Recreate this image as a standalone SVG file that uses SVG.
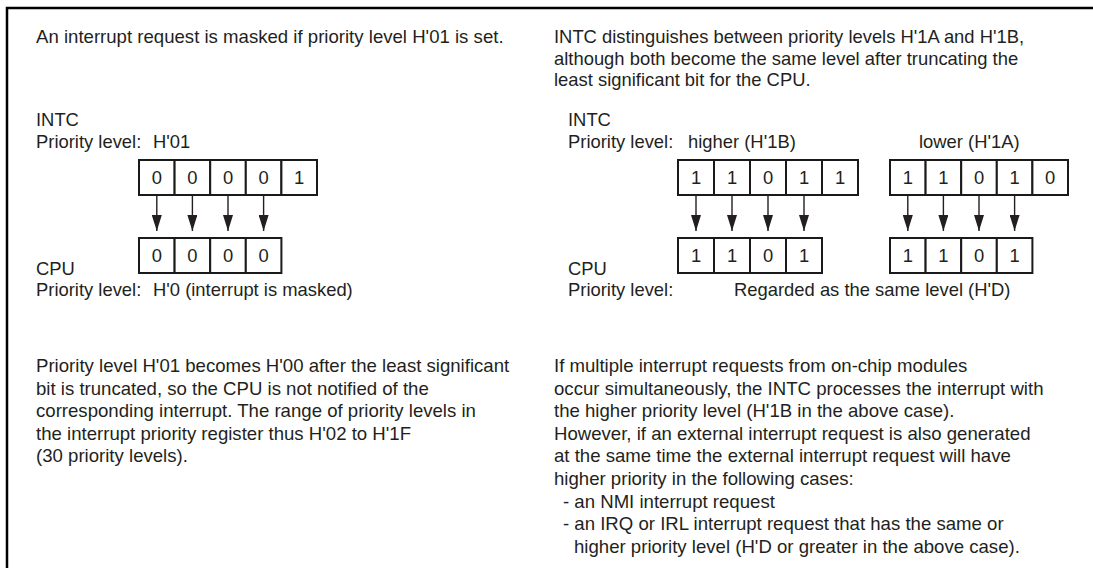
<svg xmlns="http://www.w3.org/2000/svg" width="1093" height="568" viewBox="0 0 1093 568">
<style>
text{font-family:"Liberation Sans",Arial,sans-serif;font-size:18.4px;fill:#231f20}
.p{font-size:18.6px}
.c{text-anchor:middle}
.cell{fill:#fff;stroke:#1a1a1a;stroke-width:2}
.frame{fill:none;stroke:#000;stroke-width:2.5}
.arr{stroke:#231f20;stroke-width:1.4;fill:none;marker-end:url(#ah)}
</style>
<defs>
<marker id="ah" markerUnits="userSpaceOnUse" markerWidth="16" markerHeight="10" refX="16" refY="5" orient="auto" viewBox="0 0 16 10">
<path d="M0,0 L16,5 L0,10 Z" fill="#231f20"/>
</marker>
</defs>
<rect width="1093" height="568" fill="#fff"/>
<path class="frame" d="M7,568 V8 H1093"/>

<g id="left-intro">
<text class="p" x="36" y="43">An interrupt request is masked if priority level H'01 is set.</text>
</g>
<g id="right-intro">
<text x="554" y="43">INTC distinguishes between priority levels H'1A and H'1B,</text>
<text x="554" y="64.5">although both become the same level after truncating the</text>
<text x="554" y="86">least significant bit for the CPU.</text>
</g>

<g id="left-intc-label">
<text x="36" y="126">INTC</text>
<text x="36" y="148">Priority level:</text>
<text x="153" y="148">H'01</text>
</g>
<g id="left-intc-bits">
<rect class="cell" x="139" y="160" width="35.6" height="35"/>
<rect class="cell" x="174.6" y="160" width="35.6" height="35"/>
<rect class="cell" x="210.2" y="160" width="35.6" height="35"/>
<rect class="cell" x="245.8" y="160" width="35.6" height="35"/>
<rect class="cell" x="281.4" y="160" width="35.6" height="35"/>
<text class="c" x="156.8" y="184">0</text>
<text class="c" x="192.4" y="184">0</text>
<text class="c" x="228" y="184">0</text>
<text class="c" x="263.6" y="184">0</text>
<text class="c" x="299.2" y="184">1</text>
</g>
<g id="left-cpu-bits">
<rect class="cell" x="139" y="238" width="35.6" height="35"/>
<rect class="cell" x="174.6" y="238" width="35.6" height="35"/>
<rect class="cell" x="210.2" y="238" width="35.6" height="35"/>
<rect class="cell" x="245.8" y="238" width="35.6" height="35"/>
<text class="c" x="156.8" y="262">0</text>
<text class="c" x="192.4" y="262">0</text>
<text class="c" x="228" y="262">0</text>
<text class="c" x="263.6" y="262">0</text>
</g>
<g id="left-cpu-label">
<text x="36" y="275">CPU</text>
<text x="36" y="296">Priority level:</text>
<text x="153" y="296">H'0 (interrupt is masked)</text>
</g>

<g id="right-intc-label">
<text x="568" y="126">INTC</text>
<text x="568" y="148">Priority level:</text>
<text x="688" y="148">higher (H'1B)</text>
<text x="919" y="148">lower (H'1A)</text>
</g>
<g id="right-intc-higher">
<rect class="cell" x="678" y="160" width="36" height="35"/>
<rect class="cell" x="714" y="160" width="36" height="35"/>
<rect class="cell" x="750" y="160" width="36" height="35"/>
<rect class="cell" x="786" y="160" width="36" height="35"/>
<rect class="cell" x="822" y="160" width="36" height="35"/>
<text class="c" x="696" y="184">1</text>
<text class="c" x="732" y="184">1</text>
<text class="c" x="768" y="184">0</text>
<text class="c" x="804" y="184">1</text>
<text class="c" x="840" y="184">1</text>
</g>
<g id="right-intc-lower">
<rect class="cell" x="890" y="160" width="35.6" height="35"/>
<rect class="cell" x="925.6" y="160" width="35.6" height="35"/>
<rect class="cell" x="961.2" y="160" width="35.6" height="35"/>
<rect class="cell" x="996.8" y="160" width="35.6" height="35"/>
<rect class="cell" x="1032.4" y="160" width="35.6" height="35"/>
<text class="c" x="907.8" y="184">1</text>
<text class="c" x="943.4" y="184">1</text>
<text class="c" x="979" y="184">0</text>
<text class="c" x="1014.6" y="184">1</text>
<text class="c" x="1050.2" y="184">0</text>
</g>
<g id="right-cpu-higher">
<rect class="cell" x="678" y="238" width="36" height="35"/>
<rect class="cell" x="714" y="238" width="36" height="35"/>
<rect class="cell" x="750" y="238" width="36" height="35"/>
<rect class="cell" x="786" y="238" width="36" height="35"/>
<text class="c" x="696" y="262">1</text>
<text class="c" x="732" y="262">1</text>
<text class="c" x="768" y="262">0</text>
<text class="c" x="804" y="262">1</text>
</g>
<g id="right-cpu-lower">
<rect class="cell" x="890" y="238" width="35.6" height="35"/>
<rect class="cell" x="925.6" y="238" width="35.6" height="35"/>
<rect class="cell" x="961.2" y="238" width="35.6" height="35"/>
<rect class="cell" x="996.8" y="238" width="35.6" height="35"/>
<text class="c" x="907.8" y="262">1</text>
<text class="c" x="943.4" y="262">1</text>
<text class="c" x="979" y="262">0</text>
<text class="c" x="1014.6" y="262">1</text>
</g>
<g id="right-cpu-label">
<text x="568" y="275">CPU</text>
<text x="568" y="296">Priority level:</text>
<text x="734" y="296">Regarded as the same level (H'D)</text>
</g>

<g id="connectors">
<line class="arr" x1="156.8" y1="196" x2="156.8" y2="231"/>
<line class="arr" x1="192.4" y1="196" x2="192.4" y2="231"/>
<line class="arr" x1="228" y1="196" x2="228" y2="231"/>
<line class="arr" x1="263.6" y1="196" x2="263.6" y2="231"/>
<line class="arr" x1="696" y1="196" x2="696" y2="231"/>
<line class="arr" x1="732" y1="196" x2="732" y2="231"/>
<line class="arr" x1="768" y1="196" x2="768" y2="231"/>
<line class="arr" x1="804" y1="196" x2="804" y2="231"/>
<line class="arr" x1="907.8" y1="196" x2="907.8" y2="231"/>
<line class="arr" x1="943.4" y1="196" x2="943.4" y2="231"/>
<line class="arr" x1="979" y1="196" x2="979" y2="231"/>
<line class="arr" x1="1014.6" y1="196" x2="1014.6" y2="231"/>
</g>

<g id="left-note">
<text class="p" x="36" y="372">Priority level H'01 becomes H'00 after the least significant</text>
<text class="p" x="36" y="394.6">bit is truncated, so the CPU is not notified of the</text>
<text class="p" x="36" y="417.2">corresponding interrupt. The range of priority levels in</text>
<text class="p" x="36" y="439.8">the interrupt priority register thus H'02 to H'1F</text>
<text class="p" x="36" y="462.4">(30 priority levels).</text>
</g>
<g id="right-note">
<text class="p" x="554" y="372">If multiple interrupt requests from on-chip modules</text>
<text class="p" x="554" y="394.6">occur simultaneously, the INTC processes the interrupt with</text>
<text class="p" x="554" y="417.2">the higher priority level (H'1B in the above case).</text>
<text class="p" x="554" y="439.8">However, if an external interrupt request is also generated</text>
<text class="p" x="554" y="462.4">at the same time the external interrupt request will have</text>
<text class="p" x="554" y="485">higher priority in the following cases:</text>
<text class="p" x="563" y="507.6">- an NMI interrupt request</text>
<text class="p" x="563" y="530.2">- an IRQ or IRL interrupt request that has the same or</text>
<text class="p" x="574" y="552.8">higher priority level (H'D or greater in the above case).</text>
</g>
</svg>
